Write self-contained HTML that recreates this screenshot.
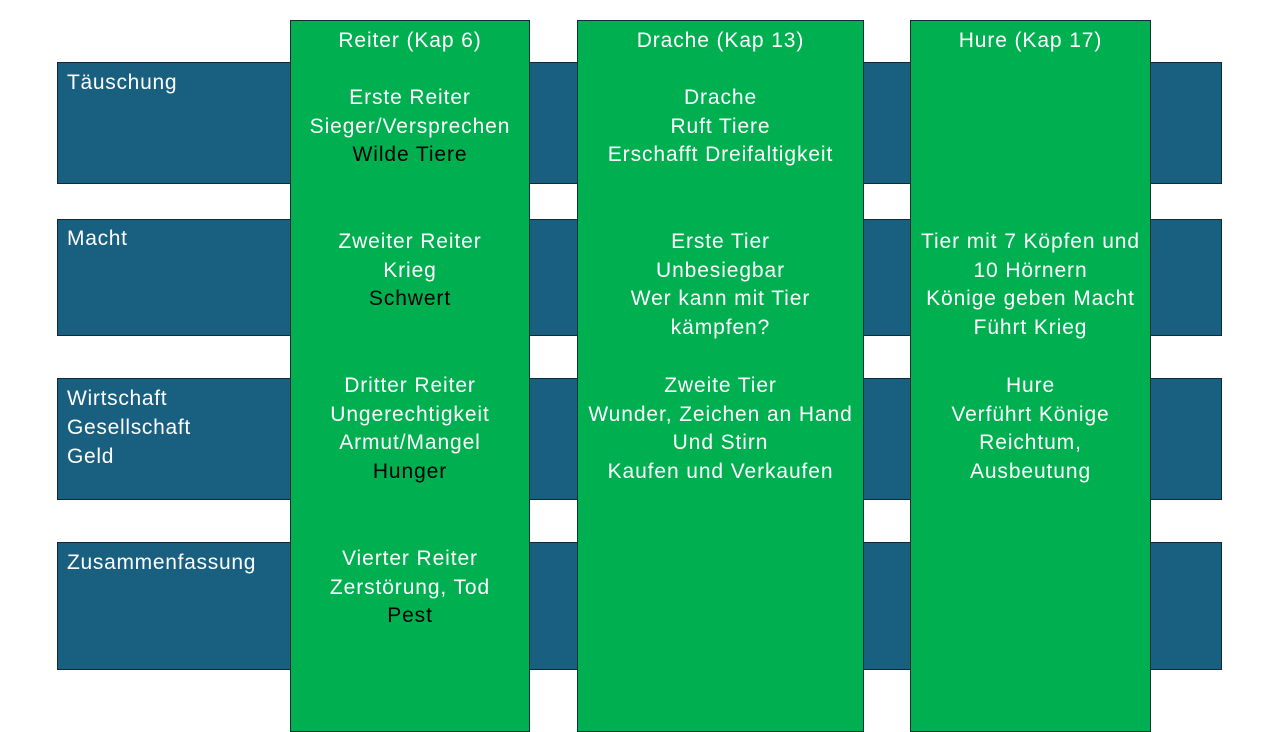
<!DOCTYPE html>
<html><head><meta charset="utf-8"><style>
body{margin:0;width:1280px;height:720px;background:#fff;position:relative;overflow:hidden;font-family:"Liberation Sans",sans-serif;}
.r{position:absolute;left:57px;width:1163px;background:#185f80;border:1.5px solid #0c2b3a;}
.c{position:absolute;top:20px;height:710px;background:#00b050;border:1.5px solid #0e2f33;}
.t{position:absolute;color:#fff;font-size:21px;letter-spacing:0.9px;line-height:28.7px;text-align:center;white-space:nowrap;}
.l{position:absolute;left:67px;color:#fff;font-size:21px;letter-spacing:0.7px;line-height:29px;}
.k{color:#000;}
</style></head><body>
<div class="r" style="top:62px;height:120px"></div>
<div class="r" style="top:219px;height:115px"></div>
<div class="r" style="top:378px;height:120px"></div>
<div class="r" style="top:542px;height:126px"></div>
<div class="l" style="top:68px">Täuschung</div>
<div class="l" style="top:224px">Macht</div>
<div class="l" style="top:384px">Wirtschaft<br>Gesellschaft<br>Geld</div>
<div class="l" style="top:548px">Zusammenfassung</div>
<div class="c" style="left:290px;width:238px"></div>
<div class="c" style="left:577px;width:285px"></div>
<div class="c" style="left:910px;width:239px"></div>
<div class="t" style="left:290px;width:240px;top:27px">Reiter (Kap 6)</div>
<div class="t" style="left:290px;width:240px;top:84px">Erste Reiter<br>Sieger/Versprechen<br><span class="k">Wilde Tiere</span></div>
<div class="t" style="left:290px;width:240px;top:228px">Zweiter Reiter<br>Krieg<br><span class="k">Schwert</span></div>
<div class="t" style="left:290px;width:240px;top:372px">Dritter Reiter<br>Ungerechtigkeit<br>Armut/Mangel<br><span class="k">Hunger</span></div>
<div class="t" style="left:290px;width:240px;top:545px">Vierter Reiter<br>Zerstörung, Tod<br><span class="k">Pest</span></div>
<div class="t" style="left:577px;width:287px;top:27px">Drache (Kap 13)</div>
<div class="t" style="left:577px;width:287px;top:84px">Drache<br>Ruft Tiere<br>Erschafft Dreifaltigkeit</div>
<div class="t" style="left:577px;width:287px;top:228px">Erste Tier<br>Unbesiegbar<br>Wer kann mit Tier<br>kämpfen?</div>
<div class="t" style="left:577px;width:287px;top:372px">Zweite Tier<br>Wunder, Zeichen an Hand<br>Und Stirn<br>Kaufen und Verkaufen</div>
<div class="t" style="left:910px;width:241px;top:27px">Hure (Kap 17)</div>
<div class="t" style="left:910px;width:241px;top:228px">Tier mit 7 Köpfen und<br>10 Hörnern<br>Könige geben Macht<br>Führt Krieg</div>
<div class="t" style="left:910px;width:241px;top:372px">Hure<br>Verführt Könige<br>Reichtum,<br>Ausbeutung</div>
</body></html>
